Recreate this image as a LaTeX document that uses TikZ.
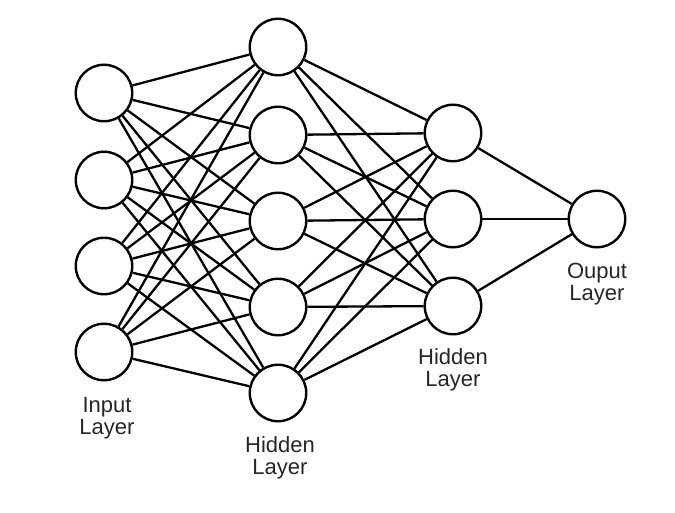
\documentclass[tikz,border=0pt]{standalone}
\usepackage{fontspec}
\setmainfont{Liberation Sans}
\usepackage{tikz}
\usetikzlibrary{positioning}

\begin{document}
\begin{tikzpicture}[
    x=1pt, y=-1pt,
    neuron/.style={draw, circle, line width=2.4pt, fill=white,
                   minimum size=56.5pt, inner sep=0pt},
    lbl/.style={align=center, text=black!85,
                font=\fontsize{22}{22}\selectfont},
    wire/.style={line width=2.3pt}
  ]
    \useasboundingbox (0,0) rectangle (675,513);
    % Input layer
    \node[neuron] (in1) at (104,93) {};
    \node[neuron] (in2) at (104,180) {};
    \node[neuron] (in3) at (104,266) {};
    \node[neuron] (in4) at (104,352) {};
    % First hidden layer
    \node[neuron] (hA1) at (278,47) {};
    \node[neuron] (hA2) at (278,135) {};
    \node[neuron] (hA3) at (278,221) {};
    \node[neuron] (hA4) at (278,307) {};
    \node[neuron] (hA5) at (278,393) {};
    % Second hidden layer
    \node[neuron] (hB1) at (453,133) {};
    \node[neuron] (hB2) at (453,219) {};
    \node[neuron] (hB3) at (453,306) {};
    % Output layer
    \node[neuron] (out) at (597,219) {};
    % Connections
    \foreach \i in {1,...,4}
      \foreach \j in {1,...,5}
        \draw[wire] (in\i) -- (hA\j);
    \foreach \i in {1,...,5}
      \foreach \j in {1,...,3}
        \draw[wire] (hA\i) -- (hB\j);
    \foreach \i in {1,...,3}
      \draw[wire] (hB\i) -- (out);
    % Labels
    \node[lbl] (lblIn) at (107,418) {Input\\Layer};
    \node[lbl] (lblHA) at (280,458) {Hidden\\Layer};
    \node[lbl] (lblHB) at (453,370) {Hidden\\Layer};
    \node[lbl] (lblOut) at (597,284) {Ouput\\Layer};
  \end{tikzpicture}
\end{document}
